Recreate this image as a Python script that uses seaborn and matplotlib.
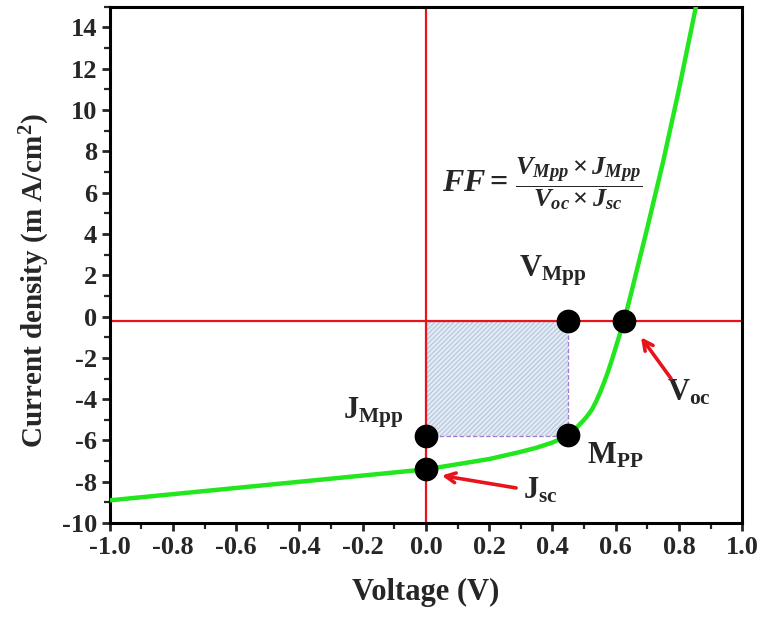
import numpy as np
import pandas as pd
import seaborn as sns
import matplotlib.pyplot as plt
import matplotlib.ticker as ticker

# J-V curve
voltage = [-1.0, -0.8, -0.6, -0.4, -0.2, 0.0, 0.1, 0.2, 0.3, 0.35, 0.4, 0.425, 0.45,
           0.475, 0.5, 0.5125, 0.525, 0.5375, 0.55, 0.5625, 0.575, 0.5875, 0.6, 0.6125,
           0.627, 0.65, 0.7, 0.75, 0.8, 0.855]
current = [-8.9, -8.6, -8.3, -8.0, -7.7, -7.4, -7.15, -6.9, -6.55, -6.35, -6.1, -5.93, -5.7,
           -5.4, -5.0, -4.77, -4.5, -4.13, -3.7, -3.22, -2.7, -2.12, -1.5, -0.88,
           -0.2, 1.2, 4.3, 7.5, 11.0, 15.1]

# marked points
point_names = ["Vmpp", "Voc", "Jmpp", "Mpp", "Jsc"]
point_v = [0.45, 0.627, 0.0, 0.45, 0.0]
point_j = [-0.2, -0.2, -5.8, -5.75, -7.4]

zero_level = -0.2
vmpp = 0.45
jmpp = -5.8

sns.set_style("ticks")
plt.rcParams["font.family"] = ["Liberation Serif", "DejaVu Serif"]
plt.rcParams["font.weight"] = "bold"
plt.rcParams["mathtext.fontset"] = "custom"
plt.rcParams["mathtext.rm"] = "Liberation Serif:bold"
plt.rcParams["mathtext.bf"] = "Liberation Serif:bold"
plt.rcParams["mathtext.it"] = "Liberation Serif:bold:italic"
plt.rcParams["mathtext.bfit"] = "Liberation Serif:bold:italic"
plt.rcParams["hatch.linewidth"] = 0.7

fig = plt.figure(figsize=(7.62, 6.19), dpi=100)
ax = fig.add_axes([0.144, 0.155, 0.830, 0.834])

RED = "#e8141c"
GREEN = "#22e61e"

ax.axhline(zero_level, color=RED, lw=1.6, zorder=2)
ax.axvline(0.0, color=RED, lw=1.6, zorder=2)

# shaded max power rectangle
ax.fill_between([0.0, vmpp], [jmpp, jmpp], [zero_level, zero_level],
                facecolor="#e2eaf4", edgecolor="#b0c2d9", hatch="///////", linewidth=0, zorder=1)
ax.plot([0.0, vmpp, vmpp, 0.0], [jmpp, jmpp, zero_level, zero_level],
        color="#9b7fd0", lw=0.9, ls="--", zorder=1.5)

df = pd.DataFrame({"Voltage": voltage, "J": current})
sns.lineplot(data=df, x="Voltage", y="J", color=GREEN, lw=3.2, ax=ax, zorder=3, sort=False)

pts = pd.DataFrame({"name": point_names, "v": point_v, "j": point_j})
sns.scatterplot(data=pts, x="v", y="j", color="black", s=250, edgecolor="black",
                ax=ax, zorder=4, legend=False)

ax.set_xlim(-1.0, 1.0)
ax.set_ylim(-10, 15)
ax.xaxis.set_major_locator(ticker.MultipleLocator(0.2))
ax.xaxis.set_minor_locator(ticker.MultipleLocator(0.1))
ax.yaxis.set_major_locator(ticker.FixedLocator([-10, -8, -6, -4, -2, 0, 2, 4, 6, 8, 10, 12, 14]))
ax.yaxis.set_minor_locator(ticker.MultipleLocator(1))
ax.xaxis.set_major_formatter(ticker.FormatStrFormatter("%.1f"))
ax.yaxis.set_major_formatter(ticker.FormatStrFormatter("%d"))

for s in ax.spines.values():
    s.set_linewidth(2.2)
    s.set_color("black")
ax.tick_params(which="major", direction="out", length=6, width=2, labelsize=19, pad=3)
ax.tick_params(which="minor", direction="out", length=4, width=1.6)
for label in ax.get_xticklabels() + ax.get_yticklabels():
    label.set_fontweight("bold")

ax.set_xlabel("Voltage (V)", fontsize=22, fontweight="bold", labelpad=14)
ax.set_ylabel(r"Current density (m A/cm$\mathbf{^2}$)", fontsize=21, fontweight="bold")
ax.yaxis.set_label_coords(-0.092, 0.47)

# labels
ax.text(0.40, 2.2, r"$\mathbf{V_{Mpp}}$", fontsize=22, ha="center", va="center")
ax.text(-0.165, -4.65, r"$\mathbf{J_{Mpp}}$", fontsize=22, ha="center", va="center")
ax.text(0.51, -6.75, r"$\mathbf{M_{PP}}$", fontsize=22, ha="left", va="center")
ax.text(0.763, -3.7, r"$\mathbf{V_{oc}}$", fontsize=22, ha="left", va="center")
ax.text(0.307, -8.45, r"$\mathbf{J_{sc}}$", fontsize=22, ha="left", va="center")

# fill factor formula
ax.text(0.05, 6.45, r"$\mathbfit{FF} =$", fontsize=23, ha="left", va="center")
ax.text(0.28, 6.45, r"$\dfrac{\mathbfit{V_{Mpp}}\times\mathbfit{J_{Mpp}}}{\mathbfit{V_{oc}}\times\mathbfit{J_{sc}}}$",
        fontsize=19, ha="left", va="center")

arrow = dict(arrowstyle="->,head_width=0.35,head_length=0.7", color=RED, lw=2.6, shrinkA=0, shrinkB=0)
ax.annotate("", xy=(0.68, -1.0), xytext=(0.775, -3.0), arrowprops=arrow)
ax.annotate("", xy=(0.05, -7.7), xytext=(0.285, -8.3), arrowprops=arrow)

plt.savefig("out.png", dpi=100)
